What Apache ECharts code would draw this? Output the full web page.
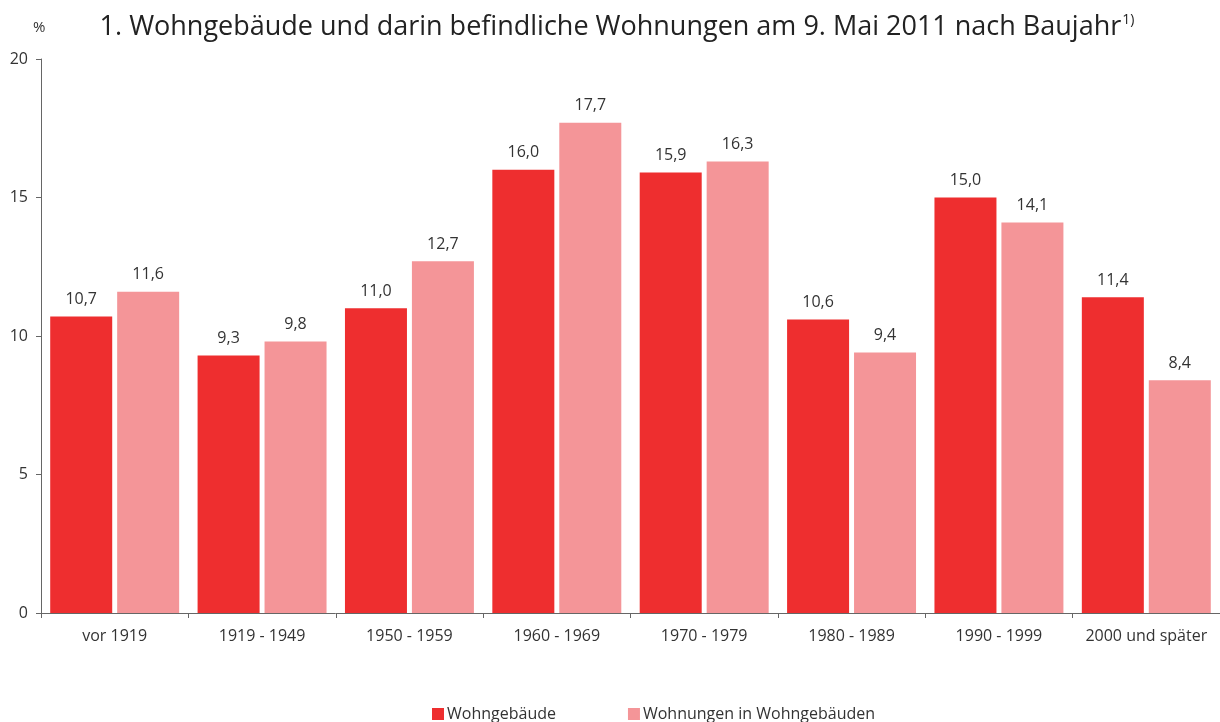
<!DOCTYPE html>
<html>
<head>
<meta charset="utf-8">
<script src="https://cdn.jsdelivr.net/npm/echarts@6/dist/echarts.min.js"></script>
<style>
  html, body { margin: 0; padding: 0; background: #fff; }
  #chart { width: 1220px; height: 722px; }
</style>
</head>
<body>
<div id="chart"></div>
<script>
// Baujahr-Klassen
const categories = ["vor 1919", "1919 - 1949", "1950 - 1959", "1960 - 1969", "1970 - 1979", "1980 - 1989", "1990 - 1999", "2000 und später"];
// Anteile in %
const gebaeude = [10.7, 9.3, 11.0, 16.0, 15.9, 10.6, 15.0, 11.4];
const wohnungen = [11.6, 9.8, 12.7, 17.7, 16.3, 9.4, 14.1, 8.4];

const font = "Open Sans";
const fmt = (v) => v.toFixed(1).replace(".", ",");

const chart = echarts.init(document.getElementById("chart"));
chart.setOption({
  animation: false,
  textStyle: { fontFamily: font },
  title: [
    {
      text: "1. Wohngebäude und darin befindliche Wohnungen am 9. Mai 2011 nach Baujahr{sup|1)}",
      left: 612,
      textAlign: "center",
      top: 8,
      textStyle: {
        fontFamily: font,
        fontSize: 27,
        fontWeight: "normal",
        color: "#222",
        rich: {
          sup: { fontSize: 14, color: "#222", verticalAlign: "top", padding: [0, 0, 14, 1] },
        },
      },
    },
    {
      text: "%",
      left: 28,
      top: 15,
      textStyle: { fontFamily: font, fontSize: 15, fontWeight: "normal", color: "#333" },
    },
  ],
  grid: { left: 41, right: 0, top: 59, bottom: 109, containLabel: false },
  legend: {
    left: 427,
    top: 701,
    itemWidth: 12,
    itemHeight: 12,
    itemGap: 72,
    icon: "rect",
    textStyle: { fontFamily: font, fontSize: 16, color: "#333", padding: [0, 0, 0, -2] },
    data: ["Wohngebäude", "Wohnungen in Wohngebäuden"],
  },
  xAxis: {
    type: "category",
    data: categories,
    axisLine: { lineStyle: { color: "#666", width: 1 } },
    axisTick: { show: true, length: 5, lineStyle: { color: "#666" } },
    axisLabel: { fontFamily: font, fontSize: 16, color: "#333", margin: 15, interval: 0 },
  },
  yAxis: {
    type: "value",
    min: 0,
    max: 20,
    interval: 5,
    axisLine: { show: true, lineStyle: { color: "#666", width: 1 } },
    axisTick: { show: true, length: 5, lineStyle: { color: "#666" } },
    axisLabel: { fontFamily: font, fontSize: 16, color: "#333", margin: 13 },
    splitLine: { show: false },
  },
  series: [
    {
      name: "Wohngebäude",
      type: "bar",
      data: gebaeude,
      barWidth: 62,
      barGap: "8%",
      itemStyle: { color: "#EE2E2F" },
      label: { show: true, position: "top", distance: 9, fontFamily: font, fontSize: 16, color: "#333", formatter: (p) => fmt(p.value) },
    },
    {
      name: "Wohnungen in Wohngebäuden",
      type: "bar",
      data: wohnungen,
      barWidth: 62,
      itemStyle: { color: "#F49598" },
      label: { show: true, position: "top", distance: 9, fontFamily: font, fontSize: 16, color: "#333", formatter: (p) => fmt(p.value) },
    },
  ],
});
</script>
</body>
</html>
